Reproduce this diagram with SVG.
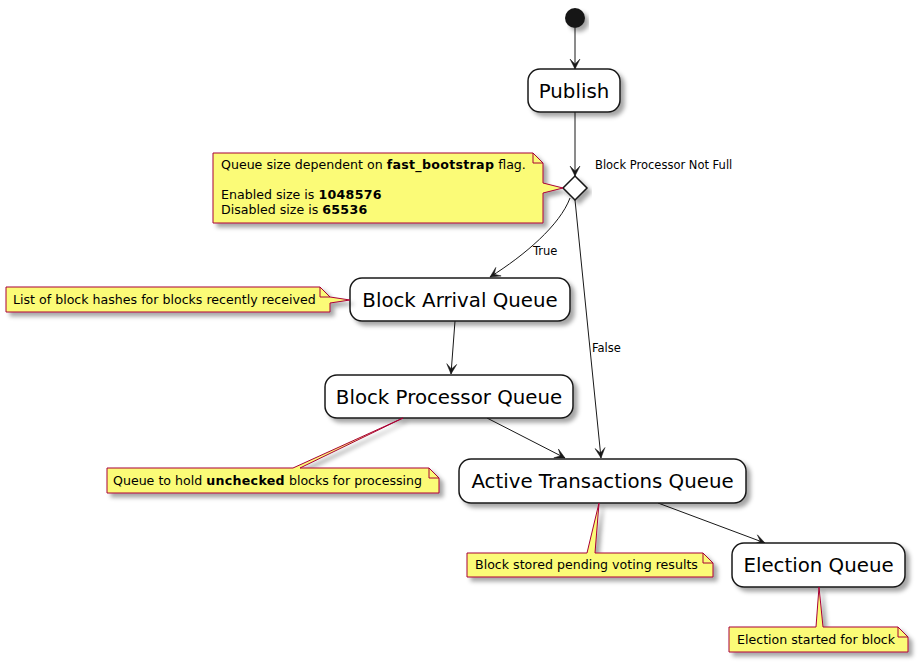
<svg xmlns="http://www.w3.org/2000/svg" width="919" height="663" viewBox="0 0 919 663">
<defs>
<filter id="sh" x="-10%" y="-20%" width="130%" height="160%">
<feGaussianBlur in="SourceAlpha" stdDeviation="2"/>
<feOffset dx="4" dy="4" result="b"/>
<feFlood flood-color="#000" flood-opacity="0.35"/>
<feComposite in2="b" operator="in"/>
<feMerge><feMergeNode/><feMergeNode in="SourceGraphic"/></feMerge>
</filter>
<marker id="arr" viewBox="-11 -6 12 12" refX="0" refY="0" markerWidth="12" markerHeight="12" markerUnits="userSpaceOnUse" orient="auto">
<path d="M0,0 L-10,-5 L-5,0 L-10,5 Z" fill="#181818" stroke="#181818" stroke-width="0.5" stroke-linejoin="miter"/>
</marker>
</defs>
<style>
.act{fill:#fff;stroke:#181818;stroke-width:1.5}
.at{font-family:"DejaVu Sans",sans-serif;font-size:19.8px;fill:#000;text-anchor:middle}
.note{fill:#FBFB77;stroke:#A80036;stroke-width:1}
.fold{fill:none;stroke:#A80036;stroke-width:1}
.nt{font-family:"DejaVu Sans",sans-serif;font-size:12.6px;fill:#000}
.lbl{font-family:"DejaVu Sans",sans-serif;font-size:11.5px;fill:#000}
.edge{fill:none;stroke:#181818;stroke-width:1;marker-end:url(#arr)}
.b{font-weight:bold;letter-spacing:0.3px}
</style>
<rect width="919" height="663" fill="#fff"/>

<g id="connectors">
<path class="edge" d="M575,28 L575,69"/>
<path class="edge" d="M575,112 L575,176"/>
<path class="edge" d="M570,198 C560,225 525,255 490,277"/>
<path class="edge" d="M575,200 L601,458"/>
<path class="edge" d="M455,321 L451,374"/>
<path class="edge" d="M487,418 L565,458"/>
<path class="edge" d="M658,503 L765,543"/>
<text class="lbl" x="595" y="169">Block Processor Not Full</text>
<text class="lbl" x="533" y="255">True</text>
<text class="lbl" x="592" y="352">False</text>
</g>

<g id="start">
<circle cx="575" cy="18" r="10" fill="#181818" filter="url(#sh)"/>
</g>

<g id="publish">
<rect class="act" x="528" y="69" width="92" height="43" rx="12" filter="url(#sh)"/>
<text class="at" x="574" y="98">Publish</text>
</g>

<g id="decision">
<path class="act" d="M575,176 L587,188 L575,200 L563,188 Z" filter="url(#sh)"/>
</g>

<g id="note-queue-size">
<path class="note" d="M213,153 L533,153 L543,163 L543,183 L563,188 L543,193 L543,223 L213,223 Z" filter="url(#sh)"/>
<path class="fold" d="M533,153 L533,163 L543,163"/>
<text class="nt" x="221" y="169">Queue size dependent on <tspan class="b">fast_bootstrap</tspan> flag.</text>
<text class="nt" x="221" y="199">Enabled size is <tspan class="b">1048576</tspan></text>
<text class="nt" x="221" y="214">Disabled size is <tspan class="b">65536</tspan></text>
</g>

<g id="block-arrival-queue">
<rect class="act" x="350" y="278" width="220" height="43" rx="12" filter="url(#sh)"/>
<text class="at" x="460" y="307">Block Arrival Queue</text>
</g>

<g id="note-arrival">
<path class="note" d="M6,287 L320,287 L330,297 L350,300 L330,303 L330,312 L6,312 Z" filter="url(#sh)"/>
<path class="fold" d="M320,287 L320,297 L330,297"/>
<text class="nt" x="13" y="304">List of block hashes for blocks recently received</text>
</g>

<g id="block-processor-queue">
<rect class="act" x="325" y="375" width="248" height="43" rx="12" filter="url(#sh)"/>
<text class="at" x="449" y="404">Block Processor Queue</text>
</g>

<g id="note-processor">
<path class="note" d="M107,468 L293,468 L403,418 L300,468 L429,468 L439,478 L439,493 L107,493 Z" filter="url(#sh)"/>
<path class="fold" d="M429,468 L429,478 L439,478"/>
<text class="nt" x="113" y="485">Queue to hold <tspan class="b">unchecked</tspan> blocks for processing</text>
</g>

<g id="active-transactions-queue">
<rect class="act" x="459" y="459" width="287" height="44" rx="12" filter="url(#sh)"/>
<text class="at" x="602.5" y="488">Active Transactions Queue</text>
</g>

<g id="note-active">
<path class="note" d="M467,553 L587,553 L599,503 L595,553 L703,553 L713,563 L713,577 L467,577 Z" filter="url(#sh)"/>
<path class="fold" d="M703,553 L703,563 L713,563"/>
<text class="nt" x="475" y="569">Block stored pending voting results</text>
</g>

<g id="election-queue">
<rect class="act" x="732" y="543" width="173" height="44" rx="12" filter="url(#sh)"/>
<text class="at" x="818.5" y="572">Election Queue</text>
</g>

<g id="note-election">
<path class="note" d="M729,627 L816,627 L819,587 L823,627 L898,627 L908,637 L908,652 L729,652 Z" filter="url(#sh)"/>
<path class="fold" d="M898,627 L898,637 L908,637"/>
<text class="nt" x="737" y="644">Election started for block</text>
</g>
</svg>
